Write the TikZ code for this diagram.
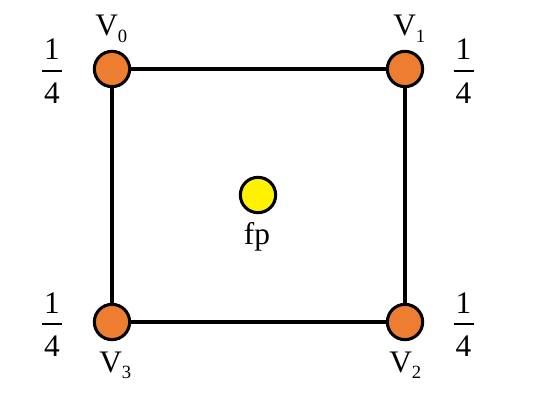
\documentclass[tikz,border=0pt]{standalone}
\usepackage{fontspec}
\setmainfont{Liberation Serif}
\definecolor{vorange}{HTML}{ED7D31}
\newcommand{\vsub}[1]{V\raisebox{-5pt}{\fontsize{14}{14}\selectfont #1}}
\begin{document}
\begin{tikzpicture}[x=0.75pt,y=-0.75pt,
  vert/.style={circle,draw=black,line width=2.3pt,fill=vorange,minimum size=26.5pt,inner sep=0pt},
  fpt/.style={vert,fill=yellow},
  edge/.style={line width=2.3pt},
  lbl/.style={inner sep=0pt,anchor=base west,font=\fontsize{23.5}{23.5}\selectfont},
  dig/.style={inner sep=0pt,anchor=base,font=\fontsize{23.5}{23.5}\selectfont},
  bar/.style={line width=1pt}]
\useasboundingbox (0,0) rectangle (538,403);
\node[vert] (v0) at (112,69) {};
\node[vert] (v1) at (405,69) {};
\node[vert] (v2) at (405,322) {};
\node[vert] (v3) at (112,322) {};
\node[fpt] (fp) at (258,195) {};
\draw[edge] (v0) -- (v1);
\draw[edge] (v1) -- (v2);
\draw[edge] (v2) -- (v3);
\draw[edge] (v3) -- (v0);
\node[lbl] (l0) at (95,36) {\vsub{0}};
\node[lbl] (l1) at (393,36) {\vsub{1}};
\node[lbl] (l3) at (99,372) {\vsub{3}};
\node[lbl] (l2) at (389,372) {\vsub{2}};
\node[dig] (lfp) at (257,244) {fp};
\foreach \n/\x/\y in {f0/52/71, f1/463.5/71, f3/52/324, f2/463.5/324} {
  \node[dig] (\n a) at (\x,\y-11) {1};
  \node[dig] (\n b) at (\x,\y+32) {4};
  \draw[bar] (\x-10,\y) -- (\x+10,\y);
}
\end{tikzpicture}
\end{document}
